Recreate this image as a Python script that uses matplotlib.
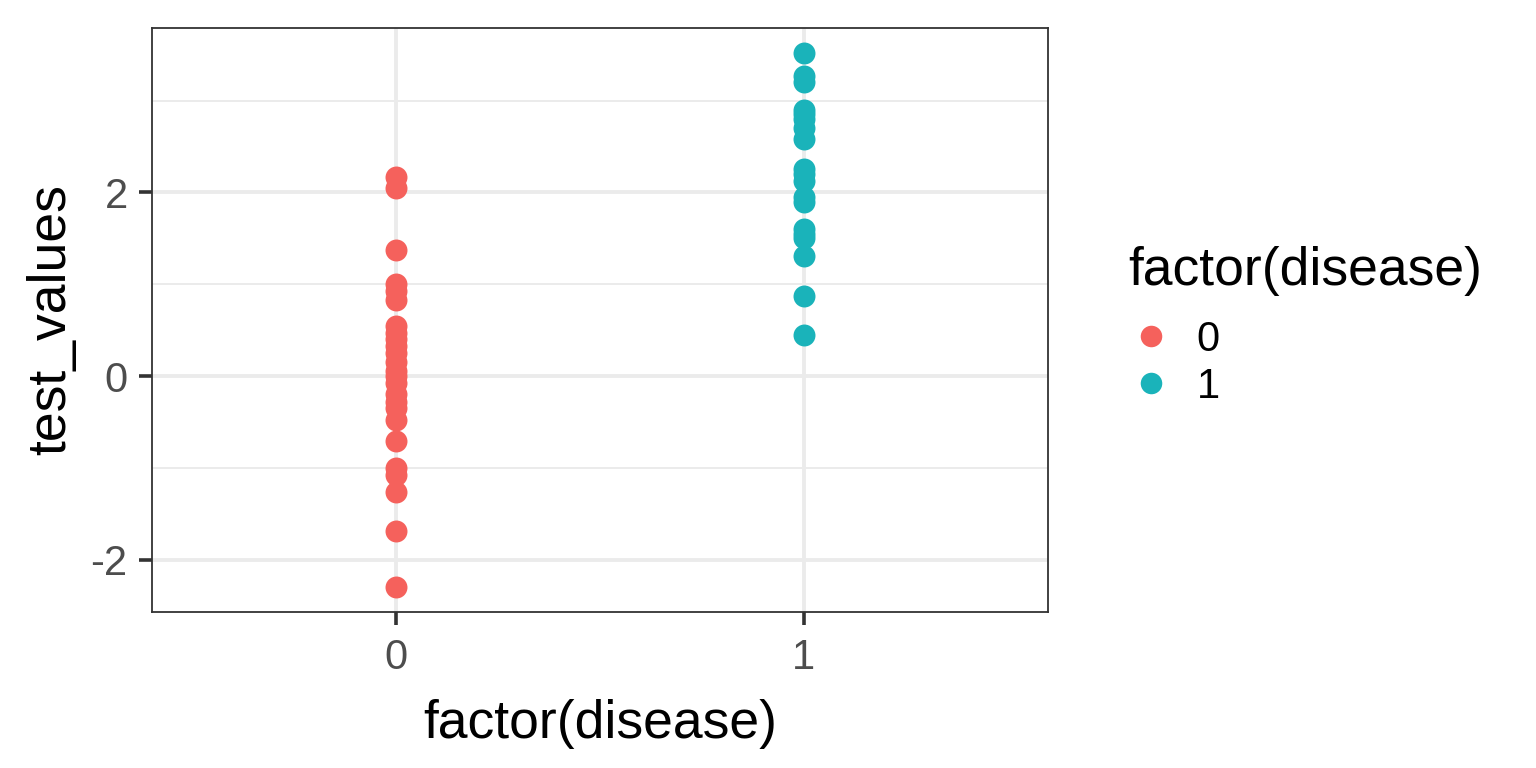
import matplotlib
matplotlib.use("Agg")
import matplotlib.pyplot as plt
from matplotlib.lines import Line2D

plt.rcParams['font.family'] = ['Liberation Sans', 'DejaVu Sans']

categories = ["0", "1"]
values_0 = [2.17, 2.05, 1.37, 1.00, 0.93, 0.83, 0.55, 0.47, 0.40, 0.33, 0.25, 0.15,
            0.05, 0.00, -0.08, -0.20, -0.28, -0.35, -0.48, -0.71, -1.00, -1.08,
            -1.26, -1.69, -2.30]
values_1 = [3.52, 3.27, 3.20, 2.90, 2.85, 2.80, 2.70, 2.58, 2.25, 2.20, 2.12, 1.95,
            1.90, 1.60, 1.55, 1.50, 1.31, 0.87, 0.45]
colors = ["#F5615C", "#1AB3BA"]
y_ticks = [-2, 0, 2]
y_minor = [-1, 1, 3]

fig = plt.figure(figsize=(15.36, 7.68), dpi=100)
ax = fig.add_axes([152/1536, 1-612/768, (1048-152)/1536, (612-28)/768])

for i, vals in enumerate([values_0, values_1]):
    ax.scatter([i]*len(vals), vals, s=250, color=colors[i], zorder=3, linewidths=0)

ax.set_xlim(-0.6, 1.6)
ax.set_ylim(-2.57, 3.79)
ax.set_xticks([0, 1])
ax.set_xticklabels(categories)
ax.set_yticks(y_ticks)
ax.set_yticklabels(["-2", "0", "2"])
ax.set_yticks(y_minor, minor=True)
ax.grid(True, which='major', color='#EBEBEB', linewidth=2.8, zorder=0)
ax.grid(True, which='minor', axis='y', color='#EBEBEB', linewidth=1.4, zorder=0)
ax.set_axisbelow(True)
ax.tick_params(which='minor', length=0)
ax.tick_params(which='major', length=9.5, width=2.6, color='#333333',
               labelsize=30, labelcolor='#4D4D4D')
ax.tick_params(axis='x', pad=9.5)
ax.tick_params(axis='y', pad=8)
for sp in ax.spines.values():
    sp.set_color('#333333')
    sp.set_linewidth(1.3)

ax.set_xlabel("factor(disease)", fontsize=38.5, labelpad=15)
ax.set_ylabel("test_values", fontsize=38.5, labelpad=10)

handles = [Line2D([0], [0], marker='o', linestyle='', markersize=15.5,
                  markerfacecolor=c, markeredgewidth=0) for c in colors]
leg = fig.legend(handles, categories, title="factor(disease)", loc='upper left',
                 bbox_to_anchor=(1128/1536, 1-246/768), frameon=False,
                 fontsize=30, title_fontsize=38.5, handletextpad=0.55,
                 labelspacing=0.17, handlelength=1.1, borderpad=0, borderaxespad=0)
leg._legend_box.align = "left"
leg._legend_box.sep = 17

fig.savefig("out.png", dpi=100)
